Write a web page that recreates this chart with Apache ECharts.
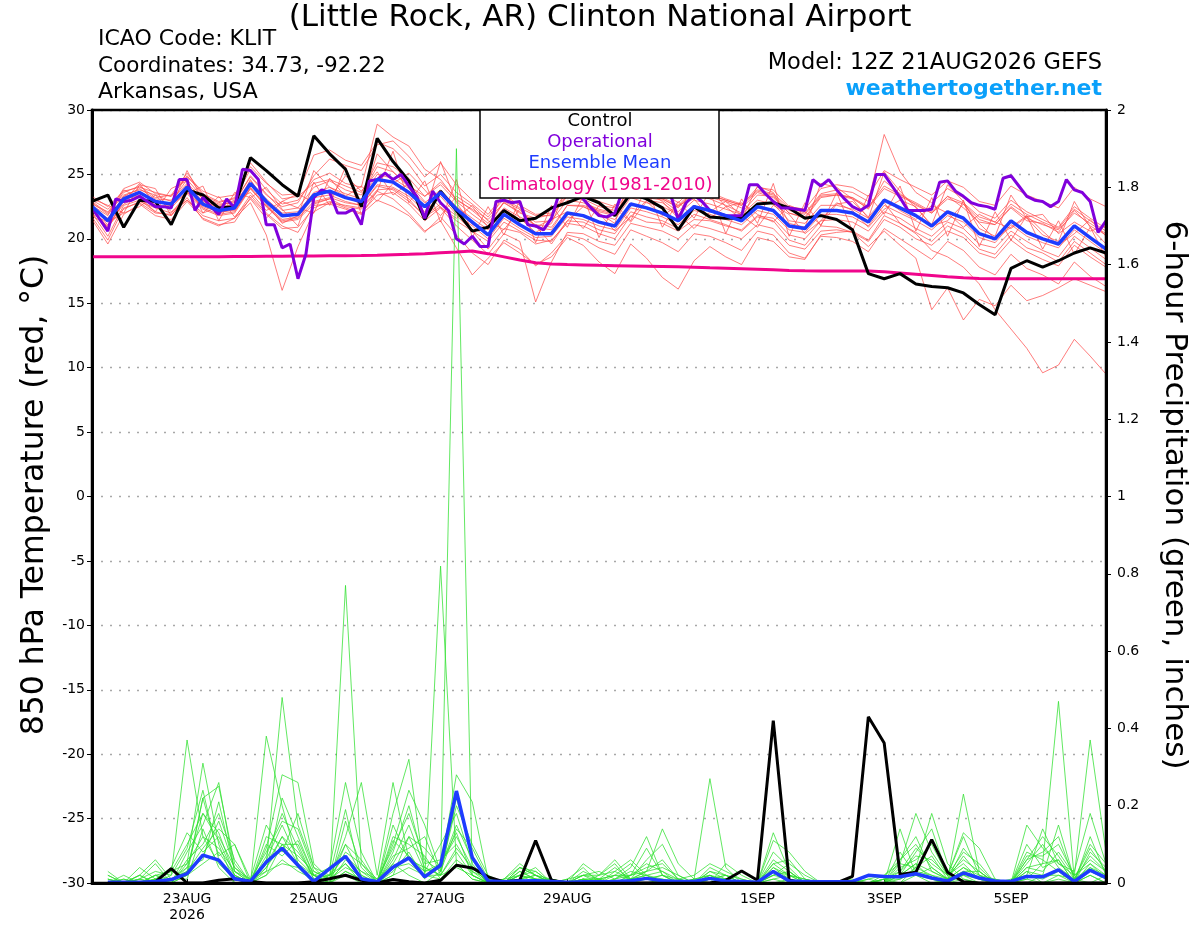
<!DOCTYPE html>
<html>
<head>
<meta charset="utf-8">
<script src="https://cdn.jsdelivr.net/npm/echarts@6/dist/echarts.min.js"></script>
<style>
html,body{margin:0;padding:0;background:#fff;}
#chart{width:1200px;height:927px;}
</style>
</head>
<body>
<div id="chart"></div>
<script>
// ---------- DATA ----------
// x = hours since 12Z 21AUG2026
const tickHours = [36, 84, 132, 180, 252, 300, 348];
const tickLabels = ['23AUG\n2026', '25AUG', '27AUG', '29AUG', '1SEP', '3SEP', '5SEP'];

// 850 hPa temperature, 6-hourly from 12Z 21AUG (65 values)
const controlTemp = [22.9,23.4,20.9,23.0,22.9,21.1,23.8,23.4,22.4,22.5,26.3,25.3,24.2,23.3,28.0,26.6,25.4,22.5,27.8,26.0,24.5,21.5,23.7,22.2,20.6,20.9,22.2,21.4,21.6,22.4,22.8,23.3,22.8,21.8,23.5,23.1,22.4,20.7,22.5,21.7,21.6,21.6,22.7,22.8,22.4,21.6,21.8,21.5,20.7,17.3,16.9,17.3,16.5,16.3,16.2,15.8,14.9,14.1,17.7,18.3,17.8,18.3,18.9,19.3,18.9];
const meanTemp = [22.5,21.4,23.1,23.6,22.9,22.7,24.0,22.7,22.2,22.4,24.3,22.9,21.8,21.9,23.4,23.7,23.2,22.9,24.6,24.4,23.6,22.5,23.6,22.3,21.3,20.3,21.9,21.1,20.4,20.4,22.0,21.8,21.3,21.0,22.7,22.4,22.0,21.4,22.5,22.2,21.8,21.4,22.5,22.2,21.0,20.8,22.2,22.2,22.0,21.3,23.0,22.4,21.8,21.0,22.1,21.6,20.4,20.0,21.4,20.5,20.0,19.6,21.0,20.1,19.2];
const climTemp = [18.6,18.6,18.6,18.6,18.6,18.6,18.6,18.6,18.6,18.62,18.63,18.64,18.65,18.66,18.67,18.68,18.69,18.7,18.72,18.76,18.8,18.85,18.92,18.98,19.05,18.85,18.6,18.35,18.15,18.05,18.0,17.97,17.94,17.92,17.9,17.88,17.86,17.84,17.8,17.75,17.72,17.68,17.64,17.6,17.55,17.52,17.5,17.5,17.5,17.5,17.45,17.35,17.25,17.15,17.05,16.97,16.93,16.9,16.9,16.9,16.9,16.9,16.9,16.9,16.9];
// operational run, 3-hourly (129 values)
const operTemp = [22.4,21.5,20.6,23.1,22.9,23.0,23.3,22.9,22.5,22.5,22.4,24.6,24.6,22.2,23.2,22.5,21.9,23.1,22.4,25.4,25.3,24.6,21.1,21.1,19.3,19.6,16.9,18.8,23.2,23.8,23.6,22.0,22.0,22.3,21.1,24.5,24.6,25.1,24.6,25.0,24.1,23.3,21.6,23.7,22.8,22.2,20.0,19.6,20.2,19.4,19.4,22.9,23.0,22.8,22.9,21.1,21.0,20.7,21.6,23.6,24.4,24.0,23.1,22.4,21.8,21.7,22.0,23.8,24.3,24.6,24.2,23.9,24.1,23.5,21.5,22.8,23.4,22.9,22.2,22.0,21.8,21.8,21.8,24.2,24.2,23.5,22.9,22.4,22.4,22.3,22.2,24.6,24.1,24.6,23.8,23.1,22.5,22.2,22.6,25.0,25.0,24.1,23.2,22.2,22.2,22.2,22.3,24.4,24.5,23.7,23.3,22.8,22.6,22.5,22.3,24.7,24.9,24.1,23.3,23.0,22.9,22.5,22.9,24.6,23.8,23.6,22.9,20.5,21.4];

// ensemble members, 6-hourly temperature
const memT01 = [22.8,21.9,23.6,24.1,23.2,23.4,25.1,23.5,22.9,23.1,25.4,23.8,22.7, 23.0,24.6,25.1,24.3,24.0,28.9,27.9,27.2,25.4,24.6,23.0,22.3,21.5, 22.8,22.0,21.6,21.9,23.4,23.0,22.1,21.8,23.6,23.2,23.0,22.1,23.4, 23.1,22.6,22.0,23.4,23.3,22.0,21.6,23.2,23.4,23.2,22.3,24.5,23.5, 22.6,22.0,23.3,22.4,21.3,21.1,22.4,21.4,21.2,20.5,22.2,21.0,20.3];
const memT02 = [22.0,20.2,22.6,23.0,22.1,21.8,23.2,21.5,21.0,21.6,22.8,20.3,16.0, 19.4,22.1,22.8,22.6,22.4,23.8,23.9,23.1,21.7,22.5,21.4,20.6,19.2, 20.8,20.5,19.6,19.9,21.2,21.0,20.4,20.0,21.8,21.3,21.2,20.6,21.5, 21.4,21.0,20.7,21.8,21.6,20.3,20.0,21.4,21.5,21.3,20.6,22.1,21.6, 20.8,20.2,21.3,20.8,19.6,19.3,20.6,19.8,19.1,18.6,20.2,19.3,18.4];
const memT03 = [23.0,22.3,23.4,23.8,23.4,22.9,24.6,23.2,22.7,22.8,24.9,23.5,22.2, 22.4,24.0,24.5,23.8,23.4,25.6,25.2,24.1,23.3,24.2,22.9,21.9,21.0, 22.4,21.7,21.1,20.9,22.6,22.5,21.9,21.5,23.2,22.8,22.5,21.9,23.0, 22.7,22.3,21.9,23.0,22.7,21.4,21.2,22.6,22.6,22.3,21.6,22.8,21.2, 20.4,19.1,18.6,17.8,16.5,14.5,13.0,11.5,9.6,10.2,12.2,10.9,9.5];
const memT04 = [21.8,21.0,22.3,22.9,22.4,22.0,23.5,22.3,21.8,22.0,23.9,22.5,21.4, 21.6,22.9,23.2,22.8,22.6,24.1,23.8,22.9,21.8,22.7,21.8,20.6,19.8, 21.3,20.6,19.9,19.8,21.4,21.3,20.7,20.4,22.1,21.7,21.4,20.8,21.9, 21.5,21.1,20.6,21.7,21.4,19.9,19.5,21.0,20.9,20.5,19.4,20.6,19.5, 18.5,14.5,16.2,13.7,15.3,14.8,16.4,15.2,15.6,16.2,16.9,16.4,15.9];
const memT05 = [22.3,21.6,23.3,23.9,23.1,23.0,24.3,23.1,22.6,22.9,24.8,23.4,22.5, 22.8,24.9,26.2,25.7,25.3,27.3,27.6,26.4,24.8,25.9,24.2,23.0,21.9, 23.4,22.6,21.9,22.0,23.7,23.5,22.9,22.5,24.3,23.9,23.6,22.8,24.0, 23.6,23.1,22.7,23.8,23.5,22.4,22.0,23.5,23.8,23.6,22.9,28.1,25.2, 23.6,22.8,23.9,23.2,22.1,21.6,23.0,22.1,21.5,20.9,22.5,21.6,20.8];
const memT06 = [21.5,19.6,21.9,22.7,21.8,21.5,22.9,21.6,21.1,21.3,23.2,21.9,20.8, 20.9,22.4,22.9,22.4,22.0,23.4,23.6,22.7,21.4,22.4,21.0,19.9,18.8, 20.4,19.8,15.1,18.2,20.5,20.4,19.8,19.5,21.2,20.9,20.6,20.0,21.1, 20.8,20.4,20.0,21.1,20.8,19.5,19.2,20.6,20.7,20.5,19.8,21.5,20.9, 20.0,19.5,20.6,20.1,18.9,18.5,19.9,19.0,18.4,17.9,19.5,18.6,17.8];
const memT07 = [22.9,22.0,23.9,24.4,23.5,23.3,24.9,23.4,22.8,23.2,25.9,24.4,23.1, 23.3,24.3,24.6,24.1,23.6,25.9,25.6,24.7,23.3,24.4,23.1,22.2,21.2, 22.8,22.1,21.3,21.4,23.0,22.8,22.3,22.0,23.7,23.4,23.1,22.5,23.5, 23.2,22.9,22.4,23.6,23.2,22.0,21.7,23.3,23.4,23.1,22.4,23.9,23.3, 22.7,22.0,23.1,22.7,21.5,21.1,22.5,21.6,21.1,20.7,22.0,21.2,20.4];
const memT08 = [22.1,21.1,22.7,23.3,22.6,22.4,23.7,22.4,21.9,22.1,24.0,22.6,21.5, 21.7,23.2,23.4,22.9,22.6,24.2,24.0,23.3,22.1,23.3,21.9,21.0,20.0, 21.6,20.8,20.1,20.2,21.7,21.5,21.0,20.7,22.4,22.1,21.7,21.1,22.2, 21.9,21.5,21.1,22.2,21.9,20.7,20.5,21.9,21.9,21.7,21.0,22.6,22.0, 21.4,20.7,21.8,21.3,20.1,19.7,21.1,20.2,19.7,19.3,20.7,19.8,18.9];
const memT09 = [23.1,22.6,22.0,24.2,23.9,21.8,23.5,24.1,21.4,23.6,23.2,24.0,22.3, 21.0,24.4,22.6,25.6,21.9,23.7,26.8,22.8,24.5,21.3,24.6,20.1,22.5, 20.3,23.0,19.7,22.6,20.9,23.3,20.1,22.7,21.4,24.0,20.9,22.9,21.6, 23.7,20.4,23.1,21.2,24.3,20.2,22.8,21.0,23.6,20.6,23.4,21.9,24.1, 20.6,23.2,20.2,23.0,19.4,22.1,19.9,21.8,19.2,21.4,18.8,20.9,18.6];
const memT10 = [21.9,21.3,22.0,22.5,23.4,22.1,23.0,22.0,23.3,21.7,23.1,21.6,22.9, 22.4,22.0,24.7,23.3,24.1,22.9,24.3,25.1,23.8,22.4,21.6,22.6,21.4, 20.7,22.3,21.0,19.6,21.4,22.5,22.0,20.6,21.7,23.0,22.8,21.9,20.8, 22.1,22.9,21.8,20.9,22.6,21.9,20.4,21.4,22.8,22.2,20.9,22.3,23.0, 22.5,21.0,21.4,22.7,21.2,20.0,20.9,21.8,20.6,19.5,20.4,21.5,20.2];
const memT11 = [22.6,21.8,23.8,23.2,22.1,23.9,24.5,22.0,22.5,23.0,23.6,22.2,22.9, 23.5,22.8,23.1,24.9,23.7,25.2,23.4,24.3,22.9,21.8,23.3,22.5,20.9, 22.9,22.3,20.9,21.5,22.1,20.8,22.6,22.4,21.3,22.9,21.8,22.6,23.1, 21.6,22.5,22.8,21.9,21.3,22.6,22.1,21.1,22.7,22.9,21.7,23.1,22.2, 21.5,22.6,22.0,20.9,21.9,21.3,20.8,21.7,21.9,20.4,21.3,20.6,21.0];
const memT12 = [22.4,20.8,22.9,24.3,22.6,22.4,25.3,23.0,22.0,22.3,24.6,22.7,21.2, 21.8,25.3,24.0,23.3,22.7,26.6,25.2,24.0,21.9,26.0,22.8,21.1,20.8, 23.8,21.6,20.5,21.2,24.0,23.1,22.0,21.2,24.9,23.7,22.9,21.6,24.6, 23.9,22.5,21.5,24.1,23.6,21.2,20.9,24.3,24.0,23.1,21.6,25.2,23.7, 22.4,21.1,24.2,22.9,20.8,20.2,23.4,21.6,20.3,19.8,22.9,20.9,19.6];
const memT13 = [22.2,20.9,23.0,23.4,22.5,22.6,23.6,22.5,22.1,22.2,23.9,22.5,21.3, 21.5,22.7,23.1,22.5,22.3,23.7,23.1,22.0,20.6,21.4,19.3,17.2,18.5, 19.7,18.9,18.0,18.6,20.1,19.5,18.2,17.3,19.6,18.5,17.0,16.1,18.3, 19.4,18.6,18.0,20.1,19.8,18.6,18.4,20.3,20.5,20.6,19.9,21.8,21.2, 20.5,19.8,21.0,20.4,19.2,18.8,20.3,19.3,18.9,18.2,19.8,18.9,18.0];
const memT14 = [22.7,22.1,23.3,23.5,23.0,22.6,24.2,22.9,22.4,22.7,24.5,23.1,22.0, 22.1,23.6,24.0,23.5,23.1,25.0,24.7,23.9,22.8,23.8,22.5,21.6,20.7, 22.3,21.5,20.9,20.7,22.6,22.6,22.2,21.9,23.6,23.5,23.1,22.4,23.8, 23.4,23.0,22.6,24.0,23.8,22.5,22.3,23.9,24.2,24.0,23.3,25.3,24.6, 24.0,23.4,24.5,24.0,22.9,22.6,24.1,23.4,22.9,22.4,24.0,23.1,22.5];
const memT15 = [21.7,19.9,22.4,22.8,22.0,21.9,23.0,21.8,21.4,21.6,23.4,22.0,21.0, 20.5,22.6,22.7,22.3,21.9,23.0,22.5,21.8,20.5,21.7,20.3,18.9,18.0, 19.9,19.2,17.9,18.9,20.3,20.0,19.3,18.8,20.7,20.2,19.7,19.0,20.4, 20.2,19.7,19.1,20.6,20.3,18.9,18.5,20.2,20.1,19.8,19.0,20.8,20.0, 19.2,18.4,19.8,19.1,17.8,17.2,18.8,17.7,17.2,16.5,18.2,17.1,16.3];
const memT16 = [23.3,22.5,23.7,24.0,23.6,23.3,24.8,23.7,23.2,23.4,25.6,24.3,23.4, 23.5,26.5,26.9,26.1,25.7,27.5,27.0,25.8,24.1,25.0,23.6,22.7,21.7, 23.1,22.4,21.8,21.8,23.3,23.1,22.5,22.2,23.9,23.5,23.2,22.6,23.8, 23.4,23.0,22.6,23.7,23.4,22.2,21.9,23.4,23.5,23.2,22.5,24.1,23.4, 22.8,22.1,23.3,22.8,21.7,21.3,22.7,21.9,21.3,20.8,22.3,21.4,20.6];

// 6-hour precipitation (inches), ending 18Z 21AUG ... 12Z 6SEP (64 values)
const controlPrcp = [0,0,0,0.003,0.037,0,0,0.007,0.011,0.004,0,0,0,0.003,0.011,0.02,0.007,0,0.009,0.003,0,0.007,0.046,0.039,0.016,0.003,0.007,0.11,0.007,0,0,0,0,0,0,0,0,0,0,0.007,0.031,0.007,0.42,0.007,0,0,0,0.017,0.43,0.362,0.022,0.028,0.112,0.028,0.003,0,0,0,0,0,0,0,0,0];
const meanPrcp = [0.002,0.002,0.002,0.004,0.009,0.024,0.072,0.059,0.011,0.004,0.054,0.09,0.046,0.004,0.037,0.069,0.011,0.003,0.041,0.065,0.016,0.046,0.238,0.066,0.005,0.003,0.005,0.006,0.004,0.002,0.003,0.003,0.004,0.006,0.012,0.006,0.004,0.004,0.012,0.005,0.004,0.002,0.03,0.005,0.004,0.003,0.003,0.004,0.02,0.017,0.016,0.024,0.013,0.005,0.026,0.013,0.005,0.004,0.017,0.016,0.034,0.004,0.033,0.014];
const memP01 = [0,0,0.01,0,0.02,0.37,0.12,0.05, 0.01,0,0.04,0.12,0.08,0.02,0,0.03, 0.01,0,0.05,0.02,0,0.03,1.90,0.02, 0,0,0.01,0,0,0,0.01,0, 0,0.01,0.02,0,0,0,0.02,0, 0,0,0.03,0,0,0,0,0, 0,0,0.02,0.05,0.01,0,0.02,0, 0,0,0.03,0,0.02,0,0.04,0.01];
const memP02 = [0.03,0,0,0.01,0,0.05,0.31,0.1, 0,0,0.38,0.2,0.05,0,0.02,0.05, 0,0,0.03,0.08,0.01,0.82,0.05,0.01, 0,0,0.02,0.01,0,0,0,0.02, 0.05,0,0,0.01,0,0,0,0.01, 0,0,0.13,0.03,0,0,0,0, 0,0.01,0,0.04,0.18,0.05,0.01,0, 0,0,0,0.02,0.15,0.01,0,0.02];
const memP03 = [0,0,0.02,0.06,0.01,0.02,0.22,0.25, 0.05,0,0.05,0.48,0.15,0.04,0,0.77, 0.05,0,0.02,0.12,0.03,0.04,0.28,0.21, 0.01,0,0.04,0.02,0,0,0.02,0.01, 0,0.02,0.09,0.02,0,0.01,0.27,0.04, 0,0,0.01,0,0,0,0,0, 0,0,0.14,0.02,0,0.01,0.23,0.03, 0,0,0.01,0.05,0.47,0.01,0.04,0.02];
const memP04 = [0,0.01,0,0.02,0.03,0.1,0.18,0.13, 0.02,0,0.09,0.28,0.26,0.05,0.01,0.12, 0.26,0.02,0.26,0.06,0.03,0.1,0.18,0.05, 0,0.01,0.04,0.03,0,0,0.05,0.02, 0.06,0.01,0.03,0.14,0.05,0.01,0,0.05, 0.02,0,0.11,0.08,0.03,0,0,0, 0.01,0.02,0.05,0.18,0.08,0.02,0.13,0.09, 0.01,0,0.15,0.09,0.05,0.02,0.37,0.08];
const memP05 = [0.01,0,0.04,0.01,0,0.08,0.15,0.26, 0.03,0,0.12,0.1,0.04,0.02,0.04,0.26, 0.08,0,0.18,0.32,0.02,0.05,0.12,0.04, 0,0,0.03,0.01,0.01,0,0.01,0, 0.02,0.05,0.01,0.02,0.01,0,0.01,0.02, 0.01,0,0.05,0.02,0.01,0,0,0, 0,0,0.08,0.02,0.04,0.01,0.09,0.04, 0,0.01,0.02,0.14,0.05,0.03,0.18,0.05];
const memP06 = [0,0,0.01,0,0.01,0.03,0.22,0.07, 0.1,0.01,0.03,0.22,0.12,0.02,0,0.1, 0.02,0,0.1,0.24,0.15,0.03,0.2,0.1, 0.02,0,0.02,0.04,0,0,0.01,0.01, 0.04,0.01,0.03,0.04,0.02,0,0.02,0.01, 0,0,0.06,0.03,0,0,0,0.01, 0,0.01,0.02,0.08,0.14,0.02,0.06,0.03, 0,0,0.06,0.08,0.12,0.01,0.09,0.03];
const memP07 = [0.02,0,0.01,0.05,0,0.02,0.07,0.16, 0.04,0,0.02,0.1,0.07,0.03,0.01,0.05, 0.01,0,0.15,0.06,0.04,0.02,0.08,0.02, 0,0.01,0.05,0.02,0,0.01,0.04,0, 0.03,0.06,0.02,0,0.01,0.02,0.05,0.03, 0.01,0,0.02,0.05,0.02,0,0,0, 0,0.02,0.06,0.12,0.03,0.01,0.04,0.02, 0.01,0,0.08,0.06,0.03,0,0.12,0.02];
const memP08 = [0,0.02,0,0.01,0.03,0.05,0.12,0.09, 0.03,0.01,0.15,0.08,0.18,0.04,0.02,0.07, 0.03,0.01,0.05,0.12,0.09,0.04,0.15,0.06, 0,0,0.01,0.02,0.01,0,0.02,0.03, 0.01,0.02,0.05,0.03,0.01,0,0.04,0.02, 0,0,0.04,0.01,0,0,0,0, 0.01,0,0.04,0.06,0.1,0.02,0.05,0.01, 0,0,0.04,0.03,0.08,0.02,0.05,0.01];
const memP09 = [0,0,0,0.02,0.01,0.04,0.18,0.11, 0.02,0,0.06,0.15,0.06,0.02,0,0.16, 0.04,0,0.08,0.2,0.05,0.06,0.1,0.03, 0.01,0,0.03,0.01,0,0,0.01,0.01, 0.02,0.01,0.06,0.1,0.02,0,0.03,0.01, 0,0,0.03,0.02,0.01,0,0,0, 0,0,0.03,0.09,0.05,0.02,0.12,0.02, 0,0,0.1,0.04,0.06,0,0.08,0.04];
const memP10 = [0.01,0,0.02,0,0,0.06,0.1,0.18, 0.06,0,0.04,0.1,0.1,0.01,0.01,0.04, 0.02,0,0.12,0.1,0.07,0.01,0.06,0.03, 0,0,0.02,0,0.01,0,0,0, 0.01,0.03,0.02,0.01,0,0.01,0.02,0, 0,0,0.02,0.01,0,0,0,0, 0,0.01,0.01,0.03,0.02,0,0.03,0.01, 0,0,0.03,0.02,0.02,0.01,0.03,0.01];
const memP11 = [0,0.01,0,0.01,0,0.02,0.05,0.08, 0.02,0,0.02,0.06,0.03,0.01,0,0.03, 0.01,0,0.04,0.05,0.02,0.02,0.04,0.02, 0,0,0.01,0,0,0,0,0.01, 0,0.01,0.01,0.02,0,0,0.01,0.01, 0,0,0.01,0.02,0,0,0,0, 0,0,0.01,0.04,0.02,0.01,0.02,0.01, 0,0,0.02,0.01,0.03,0,0.02,0];
const memP12 = [0,0,0.01,0.03,0.02,0.09,0.24,0.06, 0.01,0,0.07,0.18,0.09,0.01,0.02,0.1, 0.06,0,0.06,0.15,0.04,0.02,0.22,0.07, 0,0,0.04,0.02,0,0.01,0.02,0, 0.01,0.04,0.12,0.02,0,0,0.01,0.02, 0,0,0.08,0.04,0,0,0,0, 0,0,0.06,0.1,0.04,0.01,0.07,0.02, 0,0,0.05,0.1,0.04,0.01,0.1,0.05];
const memP13 = [0,0,0,0,0.01,0.01,0.14,0.04, 0,0,0.03,0.05,0.04,0,0,0.02, 0,0,0.02,0.04,0.02,0.01,0.05,0.01, 0,0,0,0.01,0,0,0,0, 0,0,0.01,0,0,0,0,0.01, 0,0,0,0.01,0,0,0,0, 0,0,0,0.02,0.01,0,0.01,0, 0,0,0.01,0,0.01,0,0.02,0];
const memP14 = [0.02,0,0,0.01,0.04,0.13,0.08,0.12, 0.04,0.01,0.08,0.16,0.14,0.03,0.01,0.08, 0.05,0.01,0.09,0.18,0.06,0.03,0.14,0.09, 0.01,0,0.02,0.03,0,0,0.03,0.01, 0.02,0.02,0.04,0.05,0.01,0,0.03,0.02, 0,0,0.05,0.06,0.01,0,0,0, 0,0.01,0.03,0.07,0.06,0.02,0.08,0.05, 0,0,0.07,0.07,0.1,0.02,0.06,0.03];
const memP15 = [0,0,0.02,0,0.01,0.03,0.09,0.14, 0.1,0,0.05,0.12,0.05,0.02,0,0.06, 0.03,0,0.07,0.09,0.12,0.02,0.09,0.04, 0,0,0.01,0.02,0,0,0.01,0, 0,0.02,0.03,0.06,0.01,0,0.01,0.01, 0,0,0.02,0.03,0,0,0,0, 0,0,0.02,0.05,0.03,0.01,0.04,0.01, 0,0,0.04,0.05,0.06,0,0.05,0.02];
const memP16 = [0.01,0,0,0.02,0,0.04,0.06,0.21, 0.03,0,0.1,0.07,0.11,0.02,0.02,0.19, 0.01,0,0.11,0.07,0.03,0.05,0.13,0.02, 0,0.01,0.02,0.01,0.01,0,0.02,0.02, 0.03,0.01,0.02,0.03,0,0.01,0.02,0, 0,0,0.04,0.02,0,0,0,0, 0,0,0.05,0.04,0.07,0.01,0.03,0.03, 0,0,0.06,0.12,0.07,0.01,0.07,0.03];

const tempMembers = [memT01,memT02,memT03,memT04,memT05,memT06,memT07,memT08,memT09,memT10,memT11,memT12,memT13,memT14,memT15,memT16];
const prcpMembers = [memP01,memP02,memP03,memP04,memP05,memP06,memP07,memP08,memP09,memP10,memP11,memP12,memP13,memP14,memP15,memP16];

// ---------- BUILD ----------
function pairs(arr, step, start) { return arr.map((v, i) => [start + i * step, v]); }
const FONT = "'DejaVu Sans', 'Liberation Sans', Arial, sans-serif";

const series = [];
tempMembers.forEach((m, n) => series.push({
  name: 'memT' + n, type: 'line', yAxisIndex: 0, data: pairs(m, 6, 0),
  symbol: 'none', silent: true, z: 2,
  lineStyle: { color: '#ff4a4a', width: 0.8, opacity: 0.9 }
}));
prcpMembers.forEach((m, n) => series.push({
  name: 'memP' + n, type: 'line', yAxisIndex: 1, data: pairs(m, 6, 6),
  symbol: 'none', silent: true, z: 2,
  lineStyle: { color: '#2ee02e', width: 0.8, opacity: 0.95 }
}));
series.push({ name: 'Climatology', type: 'line', yAxisIndex: 0, data: pairs(climTemp, 6, 0),
  symbol: 'none', z: 4, lineStyle: { color: '#f0058c', width: 3 } });
series.push({ name: 'ControlP', type: 'line', yAxisIndex: 1, data: pairs(controlPrcp, 6, 6),
  symbol: 'none', z: 5, lineStyle: { color: '#000', width: 3 } });
series.push({ name: 'Control', type: 'line', yAxisIndex: 0, data: pairs(controlTemp, 6, 0),
  symbol: 'none', z: 5, lineStyle: { color: '#000', width: 3 } });
series.push({ name: 'Operational', type: 'line', yAxisIndex: 0, data: pairs(operTemp, 3, 0),
  symbol: 'none', z: 6, lineStyle: { color: '#8000dc', width: 3 } });
series.push({ name: 'MeanP', type: 'line', yAxisIndex: 1, data: pairs(meanPrcp, 6, 6),
  symbol: 'none', z: 7, lineStyle: { color: '#1e3cff', width: 3.5 } });
series.push({ name: 'Mean', type: 'line', yAxisIndex: 0, data: pairs(meanTemp, 6, 0),
  symbol: 'none', z: 7, lineStyle: { color: '#1e3cff', width: 3.5 } });

const labelMap = {};
tickHours.forEach((h, i) => labelMap[h] = tickLabels[i]);

const chart = echarts.init(document.getElementById('chart'), null, { renderer: 'canvas' });
chart.setOption({
  animation: false,
  backgroundColor: '#fff',
  textStyle: { fontFamily: FONT },
  grid: { left: 92, right: 94, top: 110, bottom: 44, show: false },
  xAxis: {
    type: 'value', min: 0, max: 384,
    axisLine: { show: true, onZero: false, lineStyle: { color: '#000', width: 3 } },
    axisTick: { show: true, inside: true, length: 4, customValues: tickHours, lineStyle: { color: '#000' } },
    axisLabel: { customValues: tickHours, formatter: v => labelMap[v] || '', color: '#000', fontSize: 14, fontFamily: FONT, margin: 8, lineHeight: 16 },
    splitLine: { show: false }
  },
  yAxis: [
    { type: 'value', min: -30, max: 30, interval: 5, position: 'left',
      axisLine: { show: true, onZero: false, lineStyle: { color: '#000', width: 3 } },
      axisTick: { show: true, length: 5, lineStyle: { color: '#000' } },
      axisLabel: { color: '#000', fontSize: 14, fontFamily: FONT, margin: 7 },
      splitLine: { show: true, lineStyle: { color: '#a8a8a8', width: 1.3, type: [2, 7] } } },
    { type: 'value', min: 0, max: 2, interval: 0.2, position: 'right',
      axisLine: { show: true, onZero: false, lineStyle: { color: '#000', width: 3 } },
      axisTick: { show: true, length: 5, lineStyle: { color: '#000' } },
      axisLabel: { color: '#000', fontSize: 14, fontFamily: FONT, margin: 11 },
      splitLine: { show: false } }
  ],
  series: series,
  graphic: [
    { type: 'rect', z: 99, silent: true, shape: { x: 92, y: 110, width: 1014, height: 773 }, style: { fill: 'none', stroke: '#000', lineWidth: 2.5 } },
    { type: 'text', z: 100, x: 600, y: 18, style: { text: '(Little Rock, AR) Clinton National Airport', font: "31px " + FONT, fill: '#000', align: 'center', verticalAlign: 'middle' } },
    { type: 'text', z: 100, x: 98, y: 39, style: { text: 'ICAO Code: KLIT', font: "22px " + FONT, fill: '#000', verticalAlign: 'middle' } },
    { type: 'text', z: 100, x: 98, y: 66, style: { text: 'Coordinates: 34.73, -92.22', font: "21.5px " + FONT, fill: '#000', verticalAlign: 'middle' } },
    { type: 'text', z: 100, x: 98, y: 92, style: { text: 'Arkansas, USA', font: "22px " + FONT, fill: '#000', verticalAlign: 'middle' } },
    { type: 'text', z: 100, x: 1102, y: 63, style: { text: 'Model: 12Z 21AUG2026 GEFS', font: "22.5px " + FONT, fill: '#000', align: 'right', verticalAlign: 'middle' } },
    { type: 'text', z: 100, x: 1102, y: 89, style: { text: 'weathertogether.net', font: "bold 22px " + FONT, fill: '#0aa0fa', align: 'right', verticalAlign: 'middle' } },
    { type: 'rect', z: 100, shape: { x: 480, y: 110, width: 239, height: 88 }, style: { fill: '#fff', stroke: '#000', lineWidth: 1.5 } },
    { type: 'text', z: 101, x: 600, y: 121, style: { text: 'Control', font: "18px " + FONT, fill: '#000', align: 'center', verticalAlign: 'middle' } },
    { type: 'text', z: 101, x: 600, y: 142, style: { text: 'Operational', font: "18px " + FONT, fill: '#8000dc', align: 'center', verticalAlign: 'middle' } },
    { type: 'text', z: 101, x: 600, y: 163, style: { text: 'Ensemble Mean', font: "18px " + FONT, fill: '#1e3cff', align: 'center', verticalAlign: 'middle' } },
    { type: 'text', z: 101, x: 600, y: 185, style: { text: 'Climatology (1981-2010)', font: "18px " + FONT, fill: '#f0058c', align: 'center', verticalAlign: 'middle' } },
    { type: 'text', z: 100, x: 35, y: 495, rotation: Math.PI / 2, style: { text: '850 hPa Temperature (red, °C)', font: "31.5px " + FONT, fill: '#000', align: 'center', verticalAlign: 'middle' } },
    { type: 'text', z: 100, x: 1174, y: 495, rotation: -Math.PI / 2, style: { text: '6-hour Precipitation (green, inches)', font: "31px " + FONT, fill: '#000', align: 'center', verticalAlign: 'middle' } }
  ]
});
</script>
</body>
</html>
